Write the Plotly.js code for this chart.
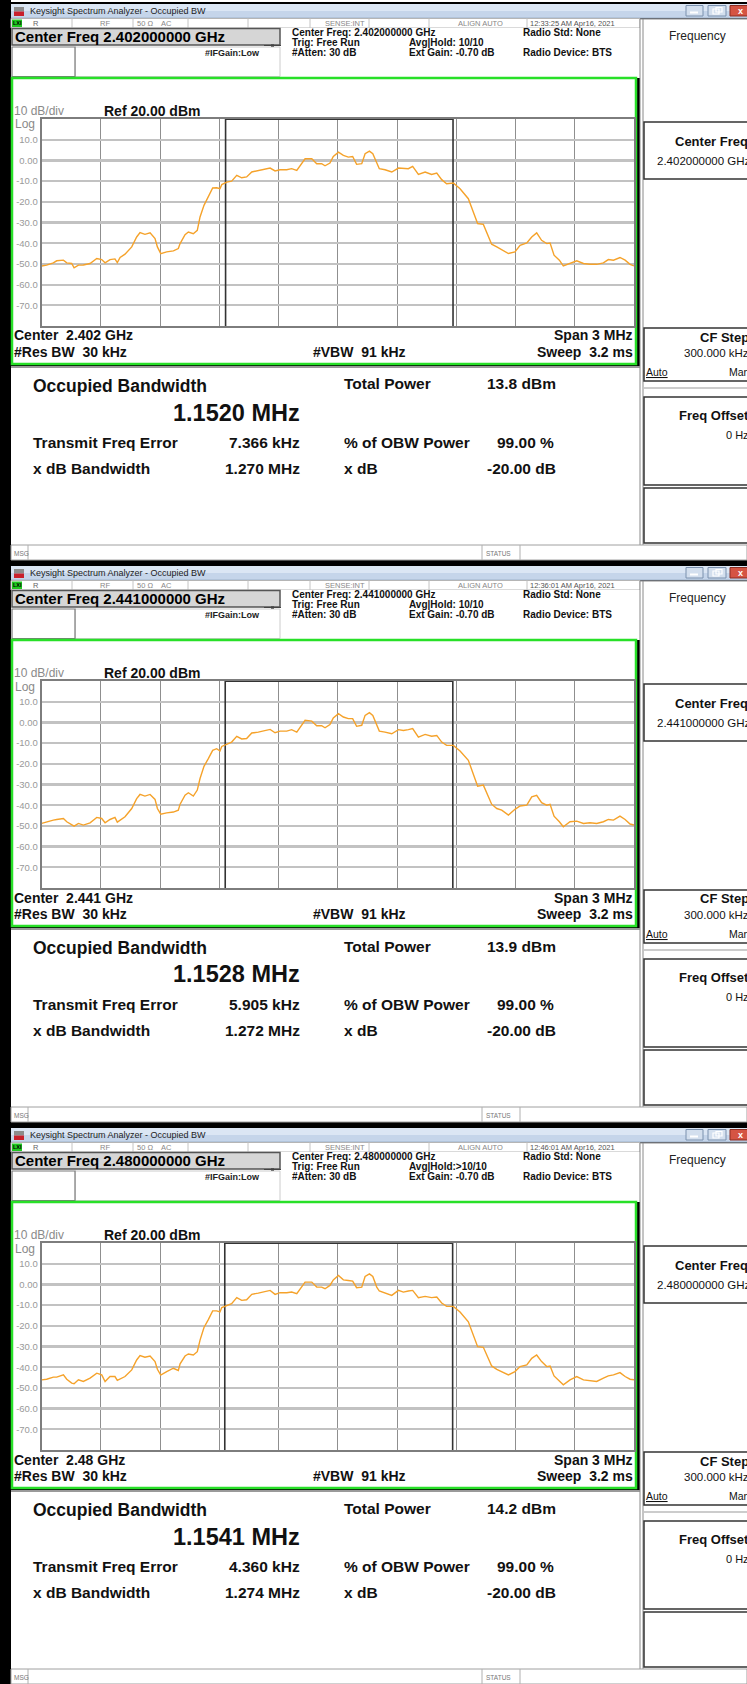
<!DOCTYPE html>
<html><head><meta charset="utf-8">
<script src="https://cdn.plot.ly/plotly-3.0.1.min.js"></script>
<style>html,body{margin:0;padding:0;background:#000;}#chart{width:747px;height:1684px;}</style>
</head><body><div id="chart"></div>
<script>
// ---------------- DATA ----------------
const freqOffsetMHz = [-1.500,-1.475,-1.441,-1.424,-1.390,-1.373,-1.348,-1.336,-1.314,-1.289,
-1.255,-1.221,-1.196,-1.179,-1.154,-1.129,-1.117,-1.103,-1.078,-1.044,
-1.019,-1.002,-0.977,-0.951,-0.926,-0.914,-0.897,-0.867,-0.833,-0.808,
-0.799,-0.774,-0.757,-0.732,-0.712,-0.698,-0.678,-0.656,-0.634,-0.614,
-0.597,-0.588,-0.563,-0.538,-0.512,-0.487,-0.462,-0.436,-0.403,-0.369,
-0.343,-0.318,-0.293,-0.259,-0.234,-0.208,-0.183,-0.166,-0.132,-0.107,
-0.082,-0.065,-0.040,-0.023,0.003,0.028,0.053,0.075,0.095,0.121,
0.138,0.160,0.177,0.197,
0.210,0.239,0.273,0.307,0.332,0.357,
0.379,0.408,0.442,0.475,0.501,0.526,0.551,0.585,0.619,0.661,
0.686,0.708,0.737,0.762,0.779,0.805,0.830,0.864,0.897,0.923,
0.957,0.982,1.007,1.032,1.058,1.075,1.095,1.122,1.142,1.176,
1.210,1.244,1.277,1.311,1.345,1.370,1.396,1.429,1.455,1.480,1.500];

const level2402 = [-51,-50.6,-49.5,-48.5,-48.2,-49.5,-49.8,-51.9,-50.6,-50.5,
-49.8,-47.4,-47.9,-49.5,-47.9,-47.6,-49.4,-46.9,-45.3,-41.8,
-37,-34.9,-35.7,-35,-37.8,-41.8,-45,-44.2,-43.7,-42.6,
-40.2,-35.9,-34.6,-35.4,-33.8,-27.3,-21.7,-17.7,-13.3,-13.2,
-13.7,-11.7,-10.5,-10,-7.2,-8.4,-8,-5.6,-4.8,-4,
-3.7,-5.1,-4.5,-4.5,-4,-4.8,-1.6,0.8,0.8,-1.6,
-1.6,-2.6,-1.3,1.9,4,2.4,1.6,1.9,-1.9,-1.6,
3.2,4.5,3.2,-1.6,
-4,-4.5,-5.6,-3.7,-4,-4,
-2.9,-6.8,-5.6,-6.8,-6.1,-9.3,-11.3,-10.9,-13.7,-18.5,
-24.9,-30.5,-30.9,-36.2,-40.5,-41.8,-43.1,-45,-44.2,-41,
-39.9,-37,-35,-38.6,-40.2,-39.9,-45.8,-48.2,-51,-49.8,
-48.5,-49.8,-50.2,-50.2,-49.5,-47.9,-48.2,-46.9,-48.2,-50.2,-51];

const level2441 = [-48.8,-48,-47.2,-46.9,-46.4,-48,-49.6,-50.1,-48.8,-49.6,
-48.5,-45.9,-46.4,-48.5,-46.9,-45.9,-48.2,-47.2,-45.6,-41.6,
-36.8,-34.8,-35.6,-34.8,-37.2,-41.6,-44.3,-43.7,-43.3,-42.4,
-39.5,-35.2,-34,-35.6,-32.7,-27.1,-21.2,-17.5,-13.5,-12.7,
-13.8,-11.6,-10.6,-9.5,-6.7,-8,-7.8,-5.1,-4.7,-3.9,
-3.4,-5,-4.2,-4.2,-3.5,-4.7,-1.4,1,0.6,-1.6,
-1.6,-2.6,-1,2.2,4.2,2.6,1.8,1.8,-1.9,-1.4,
3.4,4.7,3.4,-1.4,
-4.2,-4.7,-5.5,-3.5,-3.9,-3.5,
-3,-7.1,-5.8,-6.7,-6.3,-9.5,-11.1,-11.1,-13.8,-18.3,
-24.7,-30.8,-30.3,-36,-39.5,-41.6,-42.4,-44.8,-42,-40.4,
-40,-36,-35.2,-38.8,-40,-39.6,-45.3,-48,-50.4,-48,
-47.7,-48.8,-48.5,-48.8,-48,-46.9,-47.2,-45.3,-46.9,-49.1,-49.6];

const level2480 = [-46.1,-45.8,-44.8,-44.8,-43.7,-45.8,-47.7,-48,-46.1,-46.9,
-45.3,-42.9,-43.7,-46.9,-44.5,-44.5,-46.4,-45.8,-44.5,-41.3,
-36.5,-34.4,-35.2,-34.6,-37.3,-41,-43.8,-42.1,-40.5,-41.6,
-38.4,-34.6,-33.6,-34.1,-32.5,-26.9,-20.8,-17,-12.8,-12.8,
-13.3,-11.2,-10.1,-9.3,-6.4,-7.7,-7.4,-4.8,-4.2,-3.4,
-2.9,-4.8,-4,-4,-3.7,-4.5,-1.3,1.1,1.1,-1.3,
-1.3,-2.1,-0.5,2.2,4.3,2.2,1.9,1.6,-1.6,-1.3,
3.8,5.1,3.8,-1.3,
-3.2,-4.2,-5.3,-2.9,-3.7,-3.2,
-2.9,-6.4,-5.8,-6.4,-6.1,-9,-10.6,-10.6,-13.3,-18.1,
-24.5,-30.1,-30.4,-35.7,-39.4,-41,-42.1,-43.7,-42.1,-39.7,
-38.9,-35.7,-34.1,-37.3,-39.7,-39.4,-44.2,-46.4,-48.5,-46.1,
-44.5,-46.1,-46.4,-46.9,-45.3,-44.2,-43.7,-42.6,-44.5,-45.8,-46.1];

const yTickVals = [10,0,-10,-20,-30,-40,-50,-60,-70];
const yTickText = ['10.0','0.00','-10.0','-20.0','-30.0','-40.0','-50.0','-60.0','-70.0'];

const centerFreqText = ['2.402000000 GHz','2.441000000 GHz','2.480000000 GHz'];
const centerShort = ['2.402 GHz','2.441 GHz','2.48 GHz'];
const timestamps = ['12:33:25 AM Apr16, 2021','12:36:01 AM Apr16, 2021','12:46:01 AM Apr16, 2021'];
const avgHold = ['Avg|Hold: 10/10','Avg|Hold: 10/10','Avg|Hold:>10/10'];
const obwMHz = [1.1520, 1.1528, 1.1541];
const totalPower = ['13.8 dBm','13.9 dBm','14.2 dBm'];
const freqErrorkHz = [7.366, 5.905, 4.360];
const xdBBandwidth = ['1.270 MHz','1.272 MHz','1.274 MHz'];
const obwPowerPct = ['99.00 %','99.00 %','99.00 %'];
const xdBValue = ['-20.00 dB','-20.00 dB','-20.00 dB'];
const levels = [level2402, level2441, level2480];

// ---------------- LAYOUT HELPERS ----------------
const W = 747, H = 1684, P = 562;
const FONT = 'Liberation Sans, Arial, sans-serif';
const shapes = [], ann = [];
const X = x => x / W, Y = y => 1 - y / H;
function rect(x0,y0,x1,y1,fill,lc,lw,layer){
  shapes.push({type:'rect',xref:'paper',yref:'paper',x0:X(x0),x1:X(x1),y0:Y(y1),y1:Y(y0),
    fillcolor:fill||'rgba(0,0,0,0)',line:{color:lc||'rgba(0,0,0,0)',width:lw||0},layer:layer||'below'});
}
function seg(x0,y0,x1,y1,c,w,layer){
  shapes.push({type:'line',xref:'paper',yref:'paper',x0:X(x0),x1:X(x1),y0:Y(y0),y1:Y(y1),
    line:{color:c,width:w},layer:layer||'below'});
}
function txt(x,y,s,size,color,o){
  o=o||{};
  ann.push({xref:'paper',yref:'paper',x:X(x),y:Y(y),text:o.b?'<b>'+s+'</b>':s,showarrow:false,
    xanchor:o.a||'left',yanchor:'middle',borderpad:0,
    font:{size:size,color:color||'#000',family:o.f||FONT}});
}
const NB = '\u00a0';

rect(11,0,747,2,'#ffffff');

const traces = [];
const layout = {
  width:W, height:H, autosize:false,
  margin:{l:0,r:0,t:0,b:0},
  paper_bgcolor:'#000000', plot_bgcolor:'#ffffff',
  showlegend:false,
  font:{family:FONT},
  shapes:shapes, annotations:ann
};

for (let i=0;i<3;i++){
  const d = i*P;
  // title bar
  rect(11,4+d,747,11+d,'#dbe6f4');
  rect(11,11+d,747,18+d,'#c5d5ea');
  seg(11,18+d,747,18+d,'#9fb2cb',1);
  rect(14,7+d,24,11.5+d,'#8c8c8c');
  rect(14,11.5+d,24,16+d,'#c8202c');
  txt(29,11+d,'Keysight Spectrum Analyzer - Occupied BW',9,'#222');
  rect(686,5.5+d,703,16+d,'#d3dfee','#7b91ae',1);
  seg(690,12.5+d,698,12.5+d,'#ffffff',2);
  rect(708,5.5+d,726,16+d,'#d3dfee','#7b91ae',1);
  rect(713,9+d,719,14+d,'rgba(0,0,0,0)','#ffffff',1.2);
  rect(716,7.5+d,722,12+d,'rgba(0,0,0,0)','#ffffff',1.2);
  rect(730,5.5+d,749,16+d,'#d55443','#8b2d22',1);
  txt(740,10.8+d,'x',9,'#ffffff',{a:'center',b:true});

  // status row
  rect(11,18.5+d,640,28+d,'#ffffff','#b5b5b5',1);
  [72,133,188,248,310,369,429,527].forEach(x=>seg(x,18.5+d,x,28+d,'#c4c4c4',1));
  rect(12,19.5+d,22,27+d,'#1fc81f');
  txt(17,23.3+d,'LXI',5.5,'#000',{a:'center',b:true});
  txt(32,23.3+d,'R',7.5,'#666');
  txt(99,23.3+d,'RF',7.5,'#888');
  txt(136,23.3+d,'50 Ω',7.5,'#888');
  txt(160,23.3+d,'AC',7.5,'#888');
  txt(366,23.3+d,'SENSE:INT',7.5,'#888',{a:'right'});
  txt(504,23.3+d,'ALIGN AUTO',7.5,'#888',{a:'right'});
  txt(529,23.3+d,timestamps[i],7.5,'#555');

  // header area
  rect(11,28+d,640,78+d,'#ffffff');
  rect(12,28.5+d,280,45+d,'#d6d6d6','#555',1.5);
  txt(14,36.8+d,'Center Freq '+centerFreqText[i],15,'#000',{b:true});
  rect(75,47+d,280,76.5+d,'#ffffff','#cccccc',1);
  rect(12,47+d,75,76.5+d,'#ffffff','#7a7a7a',1.2);
  txt(261,53+d,'#IFGain:Low',9,'#222',{a:'right',b:true});
  seg(264,45.5+d,281,45.5+d,'#444',1);
  rect(271,44.3+d,274,46.7+d,'#444');
  txt(291,32.5+d,'Center Freq: '+centerFreqText[i],10,'#111',{b:true});
  txt(291,42.5+d,'Trig: Free Run',10,'#111',{b:true});
  txt(291,52.5+d,'#Atten: 30 dB',10,'#111',{b:true});
  txt(408,42.5+d,avgHold[i],10,'#111',{b:true});
  txt(408,52.5+d,'Ext Gain: -0.70 dB',10,'#111',{b:true});
  txt(522,32.5+d,'Radio Std: None',10,'#111',{b:true});
  txt(522,52.5+d,'Radio Device: BTS',10,'#111',{b:true});

  // green graph frame
  rect(12,78+d,636,364+d,'#ffffff','#28e028',2.5);
  txt(13,111+d,'10 dB/div',12,'#8a8a8a');
  txt(103,111+d,'Ref 20.00 dBm',14,'#111',{b:true});
  txt(14,124.5+d,'Log',12,'#8a8a8a');
  txt(13,335.5+d,'Center'+NB+NB+centerShort[i],14,'#111',{b:true});
  txt(13,351.5+d,'#Res BW'+NB+NB+'30 kHz',14,'#111',{b:true});
  txt(312,351.5+d,'#VBW'+NB+NB+'91 kHz',14,'#111',{b:true});
  txt(634,335.5+d,'Span 3 MHz',14,'#111',{a:'right',b:true});
  txt(634,351.5+d,'Sweep'+NB+NB+'3.2 ms',14,'#111',{a:'right',b:true});

  // results area
  rect(11,366+d,640,545+d,'#ffffff');
  seg(11,367+d,640,367+d,'#9a9a9a',2);
  txt(32,386+d,'Occupied Bandwidth',17.5,'#111',{b:true});
  txt(301,412.5+d,obwMHz[i].toFixed(4)+' MHz',23.5,'#111',{a:'right',b:true});
  txt(32,442+d,'Transmit Freq Error',15.5,'#111',{b:true});
  txt(301,442+d,freqErrorkHz[i].toFixed(3)+' kHz',15.5,'#111',{a:'right',b:true});
  txt(32,468+d,'x dB Bandwidth',15.5,'#111',{b:true});
  txt(301,468+d,xdBBandwidth[i],15.5,'#111',{a:'right',b:true});
  txt(343,384+d,'Total Power',15.5,'#111',{b:true});
  txt(486,384+d,totalPower[i],15.5,'#111',{b:true});
  txt(343,442+d,'% of OBW Power',15.5,'#111',{b:true});
  txt(496,442+d,obwPowerPct[i],15.5,'#111',{b:true});
  txt(343,468+d,'x dB',15.5,'#111',{b:true});
  txt(486,468+d,xdBValue[i],15.5,'#111',{b:true});

  // softkey panel
  rect(640,19+d,747,545+d,'#ffffff');
  seg(640,19+d,640,545+d,'#8a8a8a',1);
  seg(643,19+d,643,545+d,'#8a8a8a',1);
  seg(640,19+d,747,19+d,'#8a8a8a',1);
  txt(697,35.5+d,'Frequency',12,'#222',{a:'center'});
  rect(644,122+d,750,179+d,'#ffffff','#333',1.5);
  txt(674,141+d,'Center Freq',13,'#111',{b:true});
  txt(656,161+d,centerFreqText[i],11.5,'#111');
  rect(644,328+d,750,381+d,'#ffffff','#333',1.5);
  txt(699,337+d,'CF Step',13,'#111',{b:true});
  txt(683,353+d,'300.000 kHz',11.5,'#111');
  txt(645,372+d,'<u>Auto</u>',10.5,'#111');
  txt(728,372+d,'Man',10.5,'#111');
  seg(644,388+d,750,388+d,'#999',1);
  rect(644,397+d,750,485+d,'#ffffff','#333',1.5);
  txt(678,415+d,'Freq Offset',13,'#111',{b:true});
  txt(725,435+d,'0 Hz',11,'#111');
  rect(644,488+d,750,543+d,'#ffffff','#333',1.5);

  // message row
  rect(11,545+d,747,560+d,'#ffffff','#a0a0a0',1);
  seg(28,545+d,28,560+d,'#b0b0b0',1);
  seg(482,545+d,482,560+d,'#b0b0b0',1);
  seg(520,545+d,520,560+d,'#b0b0b0',1);
  txt(13,553+d,'MSG',6.5,'#777');
  txt(485,553+d,'STATUS',6.5,'#777');

  // axes
  const sx = i===0?'':String(i+1);
  layout['xaxis'+sx] = {domain:[X(41.7),X(634)], range:[-1.5,1.5], tick0:-1.5, dtick:0.3,
    showticklabels:false, ticks:'', showgrid:true, gridcolor:'#8f8f8f', gridwidth:1,
    zeroline:false, showline:true, mirror:true, linecolor:'#7d7d7d', linewidth:2,
    anchor:'y'+sx, fixedrange:true};
  layout['yaxis'+sx] = {domain:[Y(326+d),Y(119+d)], range:[-80,20], tickvals:yTickVals, ticktext:yTickText,
    tickfont:{size:9.5,color:'#999999',family:FONT}, ticks:'', showgrid:true, gridcolor:'#c2c2c2', gridwidth:2.2,
    zeroline:false, showline:true, mirror:true, linecolor:'#7d7d7d', linewidth:2,
    anchor:'x'+sx, fixedrange:true};

  traces.push({type:'scatter',mode:'lines',x:freqOffsetMHz,y:levels[i],xaxis:'x'+sx,yaxis:'y'+sx,
    line:{color:'#f5a22a',width:1.4},hoverinfo:'skip'});

  // occupied bandwidth bracket
  const fErr = freqErrorkHz[i]/1000;
  const lo = fErr - obwMHz[i]/2, hi = fErr + obwMHz[i]/2;
  const xr = 'x'+sx, yr = 'y'+sx;
  shapes.push({type:'line',xref:xr,yref:yr,x0:lo,x1:lo,y0:-80,y1:20,line:{color:'#333',width:1.6},layer:'between'});
  shapes.push({type:'line',xref:xr,yref:yr,x0:hi,x1:hi,y0:-80,y1:20,line:{color:'#333',width:1.6},layer:'between'});
  shapes.push({type:'line',xref:xr,yref:yr,x0:lo,x1:hi,y0:20,y1:20,line:{color:'#333',width:2},layer:'above'});
}

Plotly.newPlot('chart', traces, layout, {staticPlot:true, displayModeBar:false});
</script></body></html>
